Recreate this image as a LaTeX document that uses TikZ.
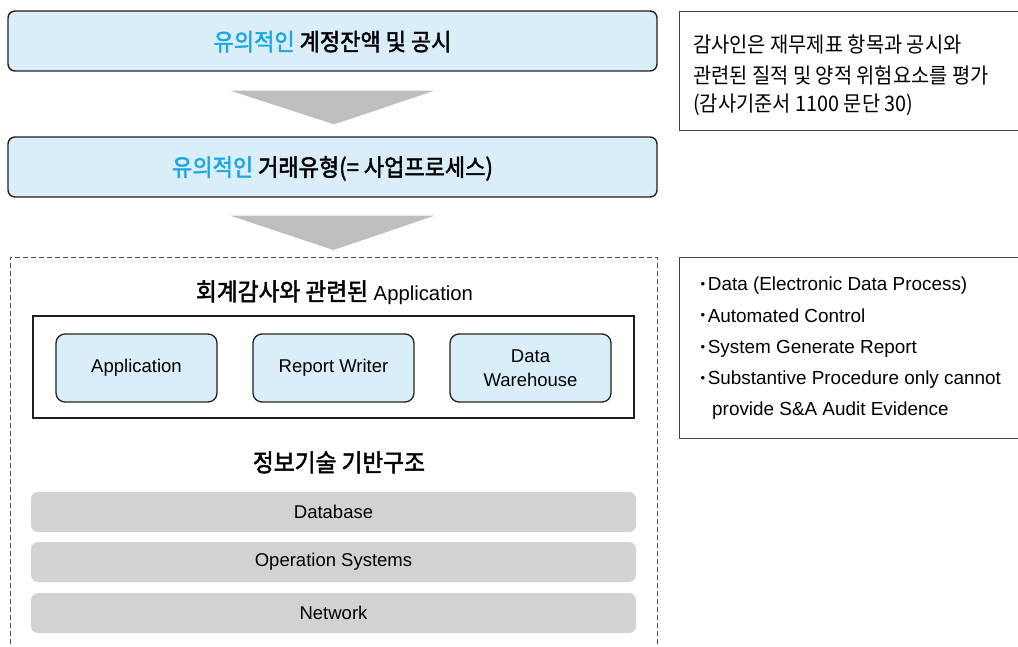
\documentclass[tikz,border=0pt]{standalone}
\usepackage{fontspec}
\setmainfont{Liberation Sans}
\newfontfamily\kr{Noto Sans CJK KR}[FakeStretch=0.93]
\newfontfamily\krm{Noto Sans CJK KR}[FakeStretch=0.93, FakeBold=2]
\usetikzlibrary{calc}

\definecolor{boxblue}{HTML}{DAEEF9}
\definecolor{keycyan}{HTML}{1AA7E2}
\definecolor{arrowgray}{HTML}{BDBEC0}
\definecolor{bargray}{HTML}{D1D2D4}
\definecolor{ink}{HTML}{231F20}

\newcommand\headfont{\krm\fontsize{23.7}{28}\selectfont}
\newcommand\labelfont{\fontsize{18.5}{24}\selectfont}
\newcommand\notekr{\kr\fontsize{21.3}{25}\selectfont}
\newcommand\notelat{\fontsize{18.9}{22}\selectfont}
\newcommand\smallbullet{\raisebox{2.5pt}{\fontsize{13}{13}\selectfont •}\hspace{2.6pt}}

\tikzset{
  stage/.style={draw=ink, line width=1.4pt, fill=boxblue, rounded corners=7pt,
    minimum width=649pt, minimum height=60pt, inner sep=0pt, font=\headfont},
  module/.style={draw=ink, line width=1.3pt, fill=boxblue, rounded corners=9pt,
    minimum width=161pt, minimum height=68pt, inner sep=0pt, align=center, font=\labelfont},
  layer/.style={fill=bargray, rounded corners=7pt, minimum width=605pt,
    minimum height=40pt, inner sep=0pt, font=\labelfont},
  notebox/.style={draw=ink!85, line width=1.3pt, anchor=north west, inner sep=0pt},
  noteline/.style={anchor=base west, inner sep=0pt},
  heading/.style={anchor=base, inner sep=0pt},
  flowarrow/.style={fill=arrowgray},
  appframe/.style={draw=ink, line width=1.4pt, inner sep=0pt},
  group/.style={draw=ink!80, line width=0.9pt, dash pattern=on 5pt off 3pt},
}

\begin{document}
\begin{tikzpicture}[x=1pt, y=-1pt]
\useasboundingbox (0,0) rectangle (1018,646);
\clip (0,0) rectangle (1018,646);

% main flow
\node[stage] (acct) at (332.5,41) {};
\node[heading, font=\headfont] (acctlbl) at (acct.center |- 0,50.5)
  {{\color{keycyan}유의적인} 계정잔액 및 공시};
\node[stage] (trans) at (332.5,167) {};
\node[heading, font=\headfont] (translbl) at (trans.center |- 0,176)
  {{\color{keycyan}유의적인} 거래유형(= 사업프로세스)};

\fill[flowarrow] ($(acct.south)+(-102,19)$) -- ($(acct.south)+(102,19)$)
  -- ($(trans.north)+(1.5,-12)$) -- cycle;

% IT environment group (open at the bottom)
\coordinate (gTL) at (10,257);
\coordinate (gTR) at (657,257);
\coordinate (gBL) at (10,660);
\coordinate (gBR) at (657,660);
\draw[group] (gBL) -- (gTL) -- (gTR) -- (gBR);

\fill[flowarrow] ($(trans.south)+(-102,18)$) -- ($(trans.south)+(102,18)$)
  -- ($(gTL)!0.5!(gTR)+(0,-7)$) -- cycle;

\node[heading, font=\fontsize{20.3}{24}\selectfont] (apptitle) at (334.5,300.5)
  {{\krm\fontsize{24.4}{28}\selectfont 회계감사와 관련된} Application};

\node[appframe, minimum width=601pt, minimum height=102pt] (apps) at (333.5,367) {};
\node[module] (app) at (136.5,368) {Application};
\node[module] (rpt) at (333.5,368) {Report Writer};
\node[module] (dwh) at (530.5,368) {Data\\Warehouse};

\node[heading, font=\krm\fontsize{24.4}{28}\selectfont] (infra) at (339,471.5)
  {정보기술 기반구조};

\node[layer] (db) at (333.5,512) {Database};
\node[layer] (os) at (333.5,562) {Operation Systems};
\node[layer] (net) at (333.5,613) {Network};

% side notes
\node[notebox, minimum width=360pt, minimum height=119pt] (note1) at (679,11) {};
\node[noteline, font=\notekr] (n1a) at (693,52) {감사인은 재무제표 항목과 공시와};
\node[noteline, font=\notekr] (n1b) at (693,83) {관련된 질적 및 양적 위험요소를 평가};
\node[noteline, font=\notekr] (n1c) at (693,111) {(감사기준서 1100 문단 30)};

\node[notebox, minimum width=360pt, minimum height=181pt] (note2) at (679,257) {};
\node[noteline, font=\notelat] (n2a) at (700.5,290.5) {\smallbullet Data (Electronic Data Process)};
\node[noteline, font=\notelat] (n2b) at (700.5,322) {\smallbullet Automated Control};
\node[noteline, font=\notelat] (n2c) at (700.5,353.5) {\smallbullet System Generate Report};
\node[noteline, font=\notelat] (n2d) at (700.5,384.5) {\smallbullet Substantive Procedure only cannot};
\node[noteline, font=\notelat] (n2e) at (712,415.5) {provide S\&A Audit Evidence};
\end{tikzpicture}
\end{document}
